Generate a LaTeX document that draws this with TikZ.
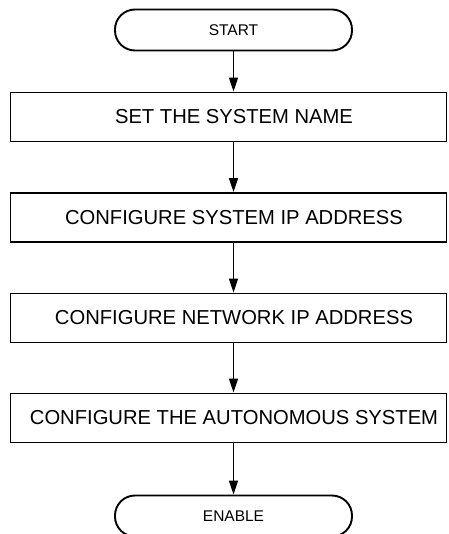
\documentclass[tikz,border=0pt]{standalone}
\usepackage{fontspec}
\setmainfont{Liberation Sans}
\usetikzlibrary{arrows.meta}
\newcommand{\shifttext}[1]{\hspace*{11pt}#1}
\begin{document}
\begin{tikzpicture}[x=1pt,y=-1pt,
  every node/.style={font=\fontsize{20.2}{23}\selectfont},
  stepbox/.style={draw,line width=1.9pt,minimum width=436pt,minimum height=49pt,inner sep=0pt},
  term/.style={draw,line width=1.9pt,rounded corners=20pt,minimum width=237pt,minimum height=41pt,inner sep=0pt,font=\fontsize{15.5}{18}\selectfont},
  conn/.style={line width=1.4pt,-{Triangle[length=14pt,width=9pt]}}]
\useasboundingbox (0,0) rectangle (448,534);
\node[term] (start) at (233.5,30) {START};
\node[stepbox] (s1) at (228.5,117) {\shifttext{SET THE SYSTEM NAME}};
\node[stepbox] (s2) at (228.5,217.5) {\shifttext{CONFIGURE SYSTEM IP ADDRESS}};
\node[stepbox] (s3) at (228.5,318) {\shifttext{CONFIGURE NETWORK IP ADDRESS}};
\node[stepbox] (s4) at (228.5,418) {\shifttext{CONFIGURE THE AUTONOMOUS SYSTEM}};
\node[term] (end) at (233.5,516) {ENABLE};
\draw[conn] (start.south) -- (start.south |- s1.north);
\draw[conn] (start.south |- s1.south) -- (start.south |- s2.north);
\draw[conn] (start.south |- s2.south) -- (start.south |- s3.north);
\draw[conn] (start.south |- s3.south) -- (start.south |- s4.north);
\draw[conn] (start.south |- s4.south) -- (end.north);
\end{tikzpicture}
\end{document}
